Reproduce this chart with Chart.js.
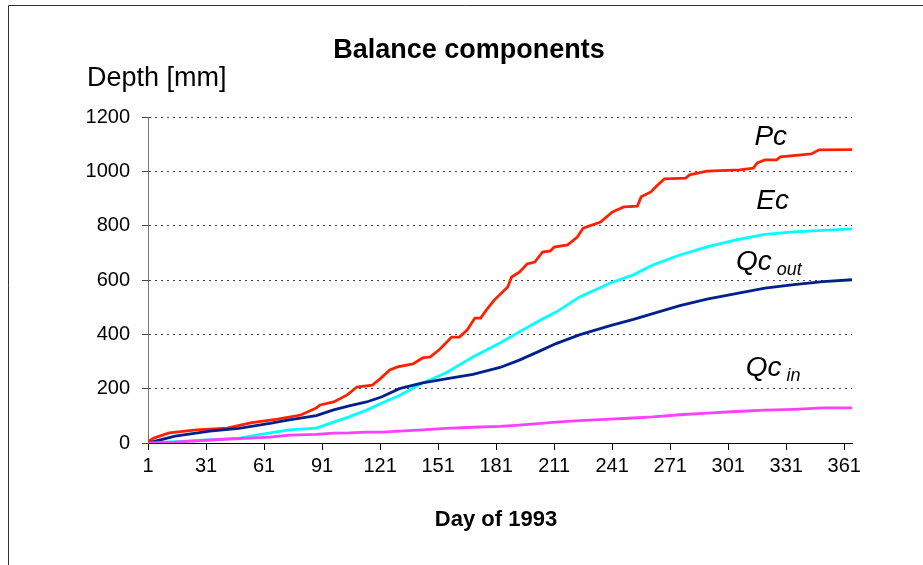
<!DOCTYPE html>
<html>
<head>
<meta charset="utf-8">
<script src="https://cdn.jsdelivr.net/npm/chart.js@4.4.1/dist/chart.umd.min.js"></script>
<style>
  html, body { margin: 0; padding: 0; background: #fff; }
  #wrap { position: relative; width: 923px; height: 565px; }
</style>
</head>
<body>
<div id="wrap"><canvas id="balanceChart" width="923" height="565"></canvas></div>
<script>
// day of year ticks on the x axis
const dayTicks = [1, 31, 61, 91, 121, 151, 181, 211, 241, 271, 301, 331, 361];
const depthTicks = [0, 200, 400, 600, 800, 1000, 1200];

// precipitation Pc (steps kept where visible)
const pcDays = [1, 4, 12, 26, 42, 54, 68, 80, 88, 90, 97, 104, 109, 117, 121, 126, 130, 138, 143, 147,
    152, 158, 162, 166, 170, 173, 176, 180, 187, 189, 193, 197, 201, 205, 209, 211, 218, 223, 226, 235,
    241, 247, 254, 256, 261, 264, 268, 279, 281, 290, 307, 314, 316, 320, 326, 328, 344, 348, 365];
const pcValues = [5, 18, 37, 48, 55, 74, 88, 103, 129, 140, 151, 177, 206, 213, 236, 269, 280, 291, 313, 317,
    346, 390, 390, 416, 460, 460, 490, 526, 574, 611, 629, 659, 666, 703, 707, 721, 729, 758, 791, 813,
    850, 869, 872, 906, 924, 946, 972, 975, 987, 1001, 1005, 1012, 1031, 1042, 1042, 1053, 1064, 1079, 1080];

// the smoother components share one list of days
const days = [1, 15, 33, 48, 64, 74, 88, 97, 105, 114, 122, 131, 143, 155, 169, 183, 193, 204, 212, 224,
    240, 252, 262, 276, 290, 305, 320, 335, 350, 365];
const ecValues = [0, 5, 11, 18, 37, 48, 55, 77, 96, 121, 147, 175, 221, 258, 317, 368, 409, 453, 482, 537,
    589, 619, 655, 692, 722, 748, 768, 777, 783, 788];
const qcOutValues = [0, 25, 44, 54, 72, 85, 101, 122, 137, 151, 170, 200, 221, 236, 253, 278, 305, 340, 366, 398,
    432, 455, 476, 506, 530, 550, 570, 583, 594, 601];
const qcInValues = [0, 3, 11, 16, 22, 29, 32, 36, 37, 40, 40, 44, 48, 54, 58, 61, 66, 72, 77, 82,
    88, 92, 96, 104, 110, 116, 121, 124, 129, 129];

// curve names written next to the lines: [main, subscript, day, depth]
// for plain names the day is the centre, with a subscript it is the left edge
const curveNames = [
    ['Pc', '', 323, 1126],
    ['Ec', '', 324, 891],
    ['Qc', 'out', 305, 666],
    ['Qc', 'in', 310, 276]
];

function toPoints(xs, ys) {
    return xs.map((d, i) => ({ x: d, y: ys[i] }));
}

const textPlugin = {
    id: 'textPlugin',
    beforeDraw(chart) {
        const ctx = chart.ctx;
        ctx.save();
        // outer frame
        ctx.strokeStyle = '#333';
        ctx.lineWidth = 1;
        ctx.beginPath();
        ctx.moveTo(8.5, 565);
        ctx.lineTo(8.5, 5.5);
        ctx.lineTo(923, 5.5);
        ctx.stroke();
        ctx.restore();
    },
    afterDraw(chart) {
        const ctx = chart.ctx;
        const xs = chart.scales.x, ys = chart.scales.y;
        ctx.save();
        ctx.fillStyle = '#000';
        ctx.textBaseline = 'middle';
        ctx.textAlign = 'center';
        ctx.font = 'bold 27px "Liberation Sans", Arial, sans-serif';
        ctx.fillText('Balance components', 469, 51);
        ctx.textAlign = 'left';
        ctx.font = '27px "Liberation Sans", Arial, sans-serif';
        ctx.fillText('Depth [mm]', 87, 79);
        ctx.textAlign = 'center';
        ctx.font = 'bold 22px "Liberation Sans", Arial, sans-serif';
        ctx.fillText('Day of 1993', 496, 520);

        curveNames.forEach(n => {
            const px = xs.getPixelForValue(n[2]);
            const py = ys.getPixelForValue(n[3]);
            ctx.font = 'italic 28px "Liberation Sans", Arial, sans-serif';
            const w = ctx.measureText(n[0]).width;
            if (n[1]) {
                ctx.textAlign = 'left';
                ctx.fillText(n[0], px, py);
                ctx.font = 'italic 18px "Liberation Sans", Arial, sans-serif';
                ctx.fillText(n[1], px + w + 5, py + 8);
            } else {
                ctx.textAlign = 'center';
                ctx.fillText(n[0], px, py);
            }
        });
        ctx.restore();
    }
};

const ctx = document.getElementById('balanceChart').getContext('2d');
const chart = new Chart(ctx, {
    type: 'line',
    data: {
        datasets: [
            { label: 'Qc in', data: toPoints(days, qcInValues), borderColor: '#ff40ff' },
            { label: 'Qc out', data: toPoints(days, qcOutValues), borderColor: '#00208c' },
            { label: 'Ec', data: toPoints(days, ecValues), borderColor: '#00ffff' },
            { label: 'Pc', data: toPoints(pcDays, pcValues), borderColor: '#ff2000' }
        ]
    },
    options: {
        responsive: false,
        animation: false,
        elements: {
            line: { borderWidth: 2.8, tension: 0, fill: false },
            point: { radius: 0, hoverRadius: 0 }
        },
        layout: {
            padding: { left: 0, right: 71, top: 117, bottom: 0 }
        },
        plugins: {
            legend: { display: false },
            title: { display: false },
            tooltip: { enabled: false }
        },
        scales: {
            x: {
                type: 'linear',
                min: 1,
                max: 365,
                afterBuildTicks: scale => {
                    scale.ticks = dayTicks.map(v => ({ value: v }));
                },
                afterFit: scale => { scale.height = 122; },
                grid: { drawOnChartArea: false, drawTicks: true, tickLength: 7, color: '#000' },
                border: { display: true, color: '#000', width: 1 },
                ticks: {
                    color: '#000',
                    padding: 4,
                    maxRotation: 0,
                    autoSkip: false,
                    callback: v => String(v),
                    font: { family: '"Liberation Sans", Arial, sans-serif', size: 20 }
                }
            },
            y: {
                min: 0,
                max: 1200,
                afterBuildTicks: scale => {
                    scale.ticks = depthTicks.map(v => ({ value: v }));
                },
                afterFit: scale => { scale.width = 148; },
                grid: { color: '#444', lineWidth: 1, tickLength: 6, tickColor: '#444' },
                border: { display: true, color: '#777', width: 1, dash: [2, 4] },
                ticks: {
                    color: '#000',
                    padding: 12,
                    callback: v => String(v),
                    font: { family: '"Liberation Sans", Arial, sans-serif', size: 20 }
                }
            }
        }
    },
    plugins: [textPlugin]
});
</script>
</body>
</html>
